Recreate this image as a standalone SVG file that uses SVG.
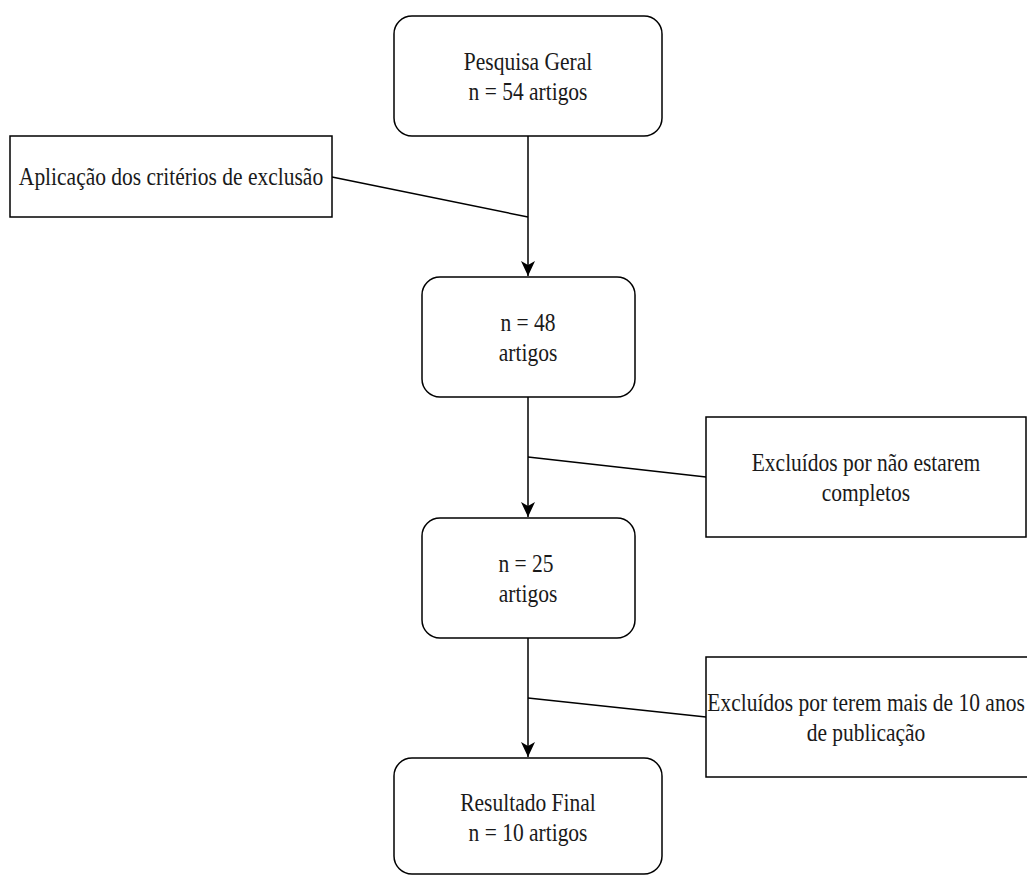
<svg xmlns="http://www.w3.org/2000/svg" width="1027" height="876" viewBox="0 0 1027 876">
  <style>
    .box { fill: #ffffff; stroke: #000000; stroke-width: 1.5; }
    .lbl { font-family: "Liberation Serif", "Times New Roman", serif; font-size: 21.5px; fill: #1a1a1a; text-anchor: middle; }
    .edge { fill: none; stroke: #000000; stroke-width: 1.5; }
  </style>
  <defs>
    <marker id="arrow" markerWidth="16" markerHeight="16" refX="15" refY="7" orient="auto" markerUnits="userSpaceOnUse">
      <path d="M0,0 L15,7 L0,14 L4,7 Z" fill="#000000"/>
    </marker>
  </defs>
  <rect width="1027" height="876" fill="#ffffff"/>

  <g id="connectors">
    <line class="edge" x1="528" y1="136" x2="528" y2="276" marker-end="url(#arrow)"/>
    <line class="edge" x1="528" y1="397" x2="528" y2="517" marker-end="url(#arrow)"/>
    <line class="edge" x1="528" y1="638" x2="528" y2="757" marker-end="url(#arrow)"/>
    <line class="edge" x1="332" y1="177" x2="528" y2="217"/>
    <line class="edge" x1="528" y1="457" x2="706" y2="477"/>
    <line class="edge" x1="528" y1="698" x2="706" y2="717"/>
  </g>

  <g id="pesquisa-geral">
    <rect class="box" x="394" y="16" width="268" height="120" rx="18" ry="18"/>
    <text class="lbl" transform="translate(528,70) scale(1,1.2)">Pesquisa Geral</text>
    <text class="lbl" transform="translate(528,100) scale(1,1.2)">n = 54 artigos</text>
  </g>

  <g id="aplicacao-criterios">
    <rect class="box" x="10" y="136" width="322" height="81"/>
    <text class="lbl" transform="translate(171,185) scale(1,1.2)">Aplicação dos critérios de exclusão</text>
  </g>

  <g id="n48">
    <rect class="box" x="422" y="277" width="213" height="120" rx="18" ry="18"/>
    <text class="lbl" transform="translate(528,331) scale(1,1.2)">n = 48</text>
    <text class="lbl" transform="translate(528,361) scale(1,1.2)">artigos</text>
  </g>

  <g id="excluidos-incompletos">
    <rect class="box" x="706" y="417" width="320" height="120"/>
    <text class="lbl" transform="translate(866,471) scale(1,1.2)">Excluídos por não estarem</text>
    <text class="lbl" transform="translate(866,501) scale(1,1.2)">completos</text>
  </g>

  <g id="n25">
    <rect class="box" x="422" y="518" width="213" height="120" rx="18" ry="18"/>
    <text class="lbl" transform="translate(526,572) scale(1,1.2)">n = 25</text>
    <text class="lbl" transform="translate(528,602) scale(1,1.2)">artigos</text>
  </g>

  <g id="excluidos-antigos">
    <rect class="box" x="706" y="657" width="326" height="120"/>
    <text class="lbl" transform="translate(866,711) scale(1,1.2)">Excluídos por terem mais de 10 anos</text>
    <text class="lbl" transform="translate(866,741) scale(1,1.2)">de publicação</text>
  </g>

  <g id="resultado-final">
    <rect class="box" x="394" y="758" width="268" height="116" rx="18" ry="18"/>
    <text class="lbl" transform="translate(528,811) scale(1,1.2)">Resultado Final</text>
    <text class="lbl" transform="translate(528,841) scale(1,1.2)">n = 10 artigos</text>
  </g>
</svg>
